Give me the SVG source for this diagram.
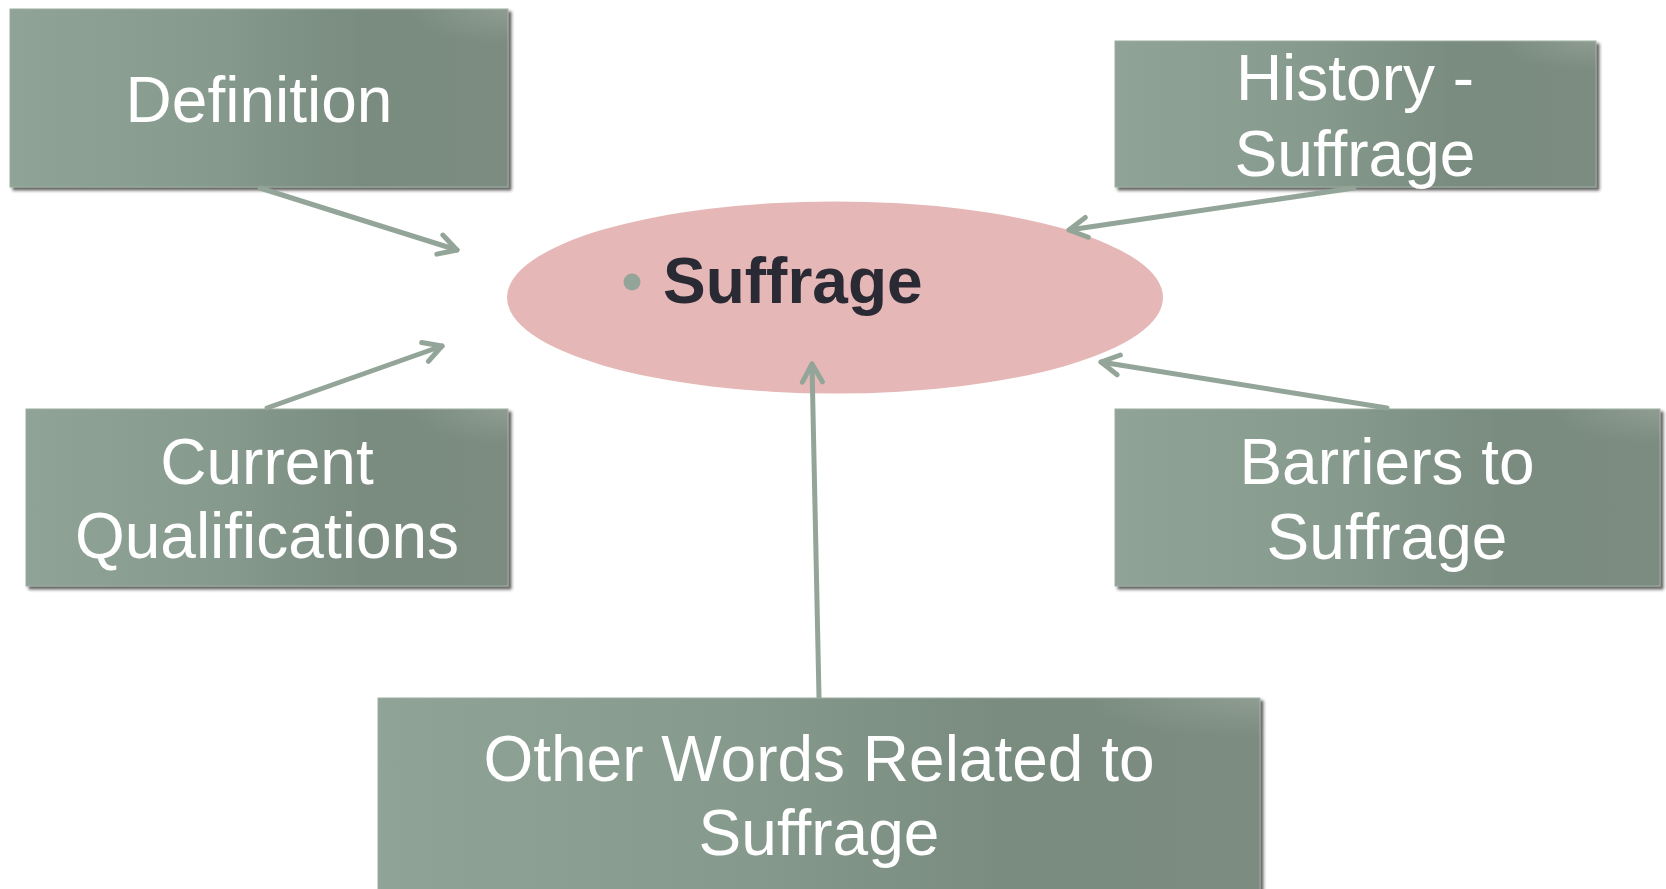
<svg xmlns="http://www.w3.org/2000/svg" width="1666" height="889" viewBox="0 0 1666 889">
  <defs>
    <style>
      .box { fill: url(#boxg); stroke: #9badA0; stroke-width: 1; filter: url(#shadow); }
      .hl { fill: url(#hlg); }
      .lbl { font-family: "Liberation Sans", Arial, sans-serif; font-size: 64px; fill: #ffffff; text-anchor: middle; }
      .conn { stroke: #93a598; stroke-width: 5; fill: none; stroke-linecap: round; marker-end: url(#chev); }
    </style>
    <linearGradient id="boxg" x1="0" y1="0" x2="1" y2="0">
      <stop offset="0" stop-color="#90a397"/>
      <stop offset="0.4" stop-color="#879a8e"/>
      <stop offset="0.7" stop-color="#7a8c80"/>
      <stop offset="1" stop-color="#7b8c80"/>
    </linearGradient>
    <radialGradient id="hlg" cx="1" cy="0" r="0.2">
      <stop offset="0" stop-color="#ffffff" stop-opacity="0.14"/>
      <stop offset="1" stop-color="#ffffff" stop-opacity="0"/>
    </radialGradient>
    <filter id="shadow" x="-5%" y="-5%" width="115%" height="120%">
      <feDropShadow dx="3" dy="3" stdDeviation="1.8" flood-color="#2f2f2f" flood-opacity="0.75"/>
    </filter>
    <marker id="chev" markerUnits="userSpaceOnUse" markerWidth="28" markerHeight="28" viewBox="0 0 28 28" refX="23" refY="14" orient="auto">
      <path d="M5,4 L23,14 L5,24" fill="none" stroke="#93a598" stroke-width="5" stroke-linecap="round" stroke-linejoin="round"/>
    </marker>
  </defs>

  <rect width="1666" height="889" fill="#ffffff"/>

  <g id="center-node">
    <ellipse cx="835" cy="297.5" rx="328" ry="96" fill="#e6b7b7"/>
    <circle cx="632" cy="282" r="8.5" fill="#93a598"/>
    <text x="663" y="303" font-family="'Liberation Sans', Arial, sans-serif" font-size="64" font-weight="bold" fill="#2a2a35">Suffrage</text>
  </g>

  <g id="node-definition">
    <rect class="box" x="10" y="9" width="498" height="178"/>
    <rect class="hl" x="10" y="9" width="498" height="178"/>
    <text class="lbl" x="259" y="122">Definition</text>
  </g>

  <g id="node-history">
    <rect class="box" x="1115" y="41" width="481" height="146"/>
    <rect class="hl" x="1115" y="41" width="481" height="146"/>
    <text class="lbl" x="1355" y="100">History -</text>
    <text class="lbl" x="1355" y="176">Suffrage</text>
  </g>

  <g id="node-current">
    <rect class="box" x="26" y="409" width="482" height="177"/>
    <rect class="hl" x="26" y="409" width="482" height="177"/>
    <text class="lbl" x="267" y="484">Current</text>
    <text class="lbl" x="267" y="558">Qualifications</text>
  </g>

  <g id="node-barriers">
    <rect class="box" x="1115" y="409" width="545" height="177"/>
    <rect class="hl" x="1115" y="409" width="545" height="177"/>
    <text class="lbl" x="1387" y="484">Barriers to</text>
    <text class="lbl" x="1387" y="559">Suffrage</text>
  </g>

  <g id="node-other">
    <rect class="box" x="378" y="698" width="882" height="200"/>
    <rect class="hl" x="378" y="698" width="882" height="200"/>
    <text class="lbl" x="819" y="781">Other Words Related to</text>
    <text class="lbl" x="819" y="855">Suffrage</text>
  </g>

  <g id="connectors">
    <line class="conn" x1="260" y1="188" x2="457" y2="250"/>
    <line class="conn" x1="267" y1="408" x2="442" y2="346"/>
    <line class="conn" x1="1354" y1="188" x2="1069" y2="230"/>
    <line class="conn" x1="1387" y1="408" x2="1101" y2="362"/>
    <line class="conn" x1="819" y1="697" x2="812" y2="364"/>
  </g>
</svg>
